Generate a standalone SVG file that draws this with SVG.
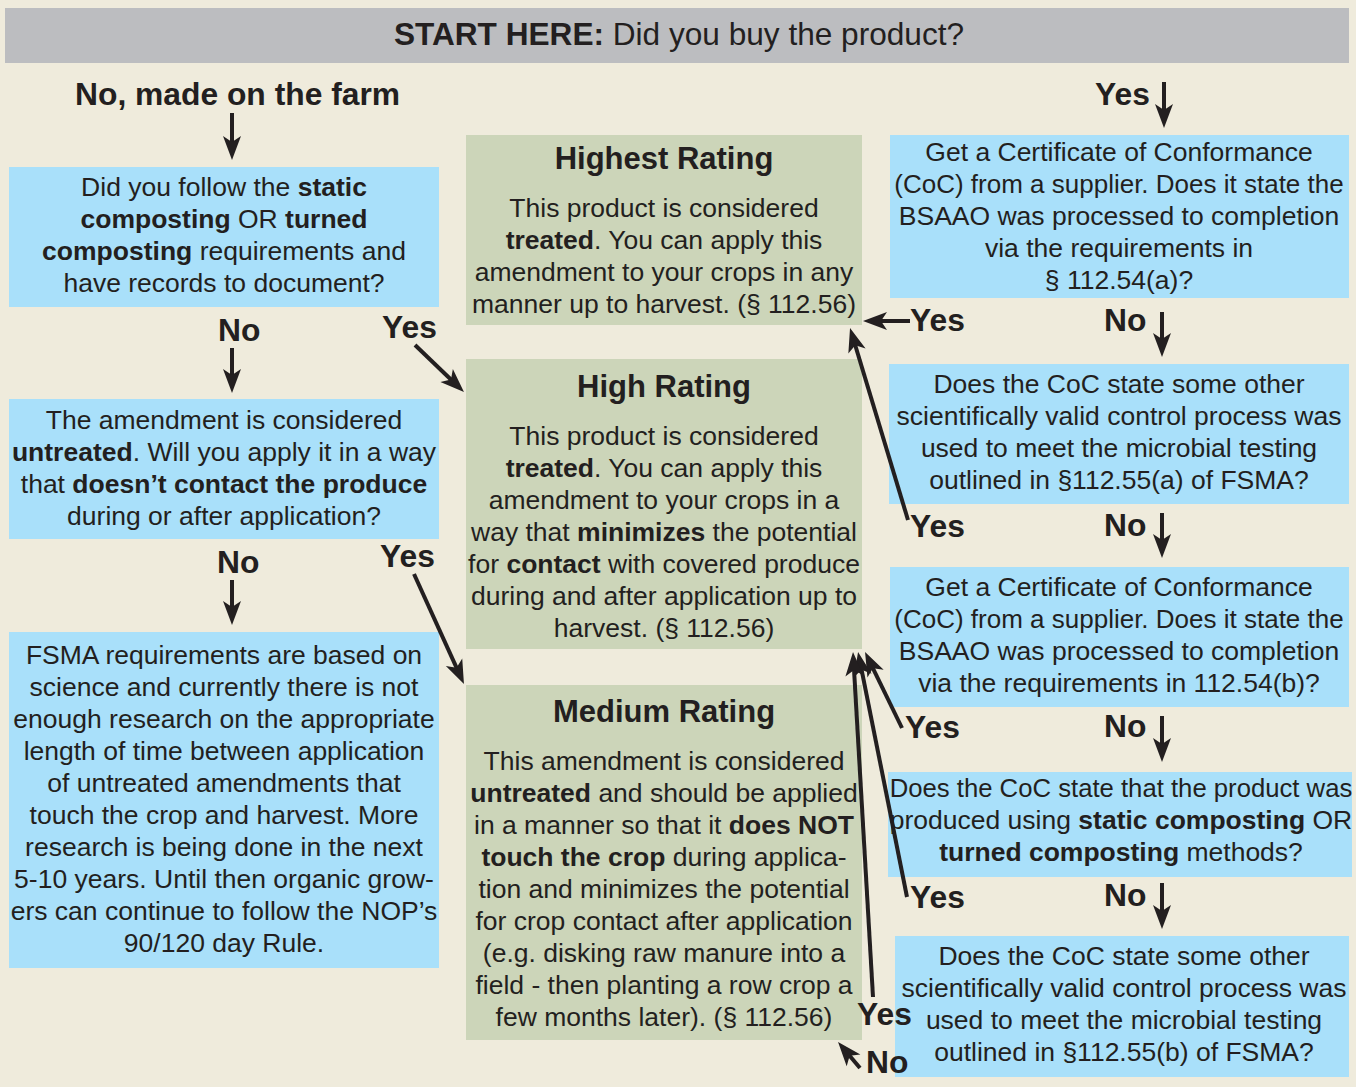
<svg xmlns="http://www.w3.org/2000/svg" width="1356" height="1087" viewBox="0 0 1356 1087">
<style>
text{font-family:"Liberation Sans",Arial,sans-serif;fill:#231f20}
.b{font-size:26.5px;text-anchor:middle}
.t{font-size:31px;font-weight:bold;text-anchor:middle}
.l{font-size:31.8px;font-weight:bold}
.bd{font-weight:bold}
.blue{fill:#a9e0fa}
.green{fill:#ccd5b9}
.c line{stroke:#231f20;stroke-width:4;marker-end:url(#ah)}
</style>
<defs>
<marker id="ah" markerUnits="userSpaceOnUse" viewBox="-13 -10 26 20" markerWidth="26" markerHeight="20" refX="0" refY="0" orient="auto">
<path d="M12,0 L-12,-9 L-6,0 L-12,9 Z" fill="#231f20"/>
</marker>
</defs>
<rect width="1356" height="1087" fill="#efebdc"/>
<g id="start">
<rect x="5" y="8" width="1344" height="55" fill="#bcbdc0"/>
<text x="679" y="45" style="font-size:31.6px;text-anchor:middle"><tspan class="bd">START HERE:</tspan> Did you buy the product?</text>
</g>
<g id="q-static">
<rect class="blue" x="9" y="167" width="430" height="140"/>
<text class="b" x="224" y="196">Did you follow the <tspan class="bd">static</tspan></text>
<text class="b" x="224" y="228"><tspan class="bd">composting</tspan> OR <tspan class="bd">turned</tspan></text>
<text class="b" x="224" y="260"><tspan class="bd">composting</tspan> requirements and</text>
<text class="b" x="224" y="292">have records to document?</text>
</g>
<g id="q-untreated">
<rect class="blue" x="9" y="399" width="430" height="140"/>
<text class="b" x="224" y="429">The amendment is considered</text>
<text class="b" x="224" y="461"><tspan class="bd">untreated</tspan>. Will you apply it in a way</text>
<text class="b" x="224" y="493">that <tspan class="bd">doesn’t contact the produce</tspan></text>
<text class="b" x="224" y="525">during or after application?</text>
</g>
<g id="fsma-note">
<rect class="blue" x="9" y="632" width="430" height="336"/>
<text class="b" x="224" y="664">FSMA requirements are based on</text>
<text class="b" x="224" y="696">science and currently there is not</text>
<text class="b" x="224" y="728">enough research on the appropriate</text>
<text class="b" x="224" y="760">length of time between application</text>
<text class="b" x="224" y="792">of untreated amendments that</text>
<text class="b" x="224" y="824">touch the crop and harvest. More</text>
<text class="b" x="224" y="856">research is being done in the next</text>
<text class="b" x="224" y="888">5-10 years. Until then organic grow-</text>
<text class="b" x="224" y="920">ers can continue to follow the NOP’s</text>
<text class="b" x="224" y="952">90/120 day Rule.</text>
</g>
<g id="highest">
<rect class="green" x="466" y="135" width="396" height="190"/>
<text class="t" x="664" y="169">Highest Rating</text>
<text class="b" x="664" y="217">This product is considered</text>
<text class="b" x="664" y="249"><tspan class="bd">treated</tspan>. You can apply this</text>
<text class="b" x="664" y="281">amendment to your crops in any</text>
<text class="b" x="664" y="313">manner up to harvest. (§ 112.56)</text>
</g>
<g id="high">
<rect class="green" x="466" y="359" width="396" height="290"/>
<text class="t" x="664" y="397">High Rating</text>
<text class="b" x="664" y="445">This product is considered</text>
<text class="b" x="664" y="477"><tspan class="bd">treated</tspan>. You can apply this</text>
<text class="b" x="664" y="509">amendment to your crops in a</text>
<text class="b" x="664" y="541">way that <tspan class="bd">minimizes</tspan> the potential</text>
<text class="b" x="664" y="573">for <tspan class="bd">contact</tspan> with covered produce</text>
<text class="b" x="664" y="605">during and after application up to</text>
<text class="b" x="664" y="637">harvest. (§ 112.56)</text>
</g>
<g id="medium">
<rect class="green" x="466" y="685" width="396" height="355"/>
<text class="t" x="664" y="722">Medium Rating</text>
<text class="b" x="664" y="770">This amendment is considered</text>
<text class="b" x="664" y="802"><tspan class="bd">untreated</tspan> and should be applied</text>
<text class="b" x="664" y="834">in a manner so that it <tspan class="bd">does NOT</tspan></text>
<text class="b" x="664" y="866"><tspan class="bd">touch the crop</tspan> during applica-</text>
<text class="b" x="664" y="898">tion and minimizes the potential</text>
<text class="b" x="664" y="930">for crop contact after application</text>
<text class="b" x="664" y="962">(e.g. disking raw manure into a</text>
<text class="b" x="664" y="994">field - then planting a row crop a</text>
<text class="b" x="664" y="1026">few months later). (§ 112.56)</text>
</g>
<g id="coc-a">
<rect class="blue" x="890" y="135" width="459" height="163"/>
<text class="b" x="1119" y="161">Get a Certificate of Conformance</text>
<text class="b" x="1119" y="193" style="font-size:26px">(CoC) from a supplier. Does it state the</text>
<text class="b" x="1119" y="225">BSAAO was processed to completion</text>
<text class="b" x="1119" y="257">via the requirements in</text>
<text class="b" x="1119" y="289">§ 112.54(a)?</text>
</g>
<g id="other-a">
<rect class="blue" x="889" y="364" width="460" height="140"/>
<text class="b" x="1119" y="393">Does the CoC state some other</text>
<text class="b" x="1119" y="425">scientifically valid control process was</text>
<text class="b" x="1119" y="457">used to meet the microbial testing</text>
<text class="b" x="1119" y="489">outlined in §112.55(a) of FSMA?</text>
</g>
<g id="coc-b">
<rect class="blue" x="890" y="567" width="459" height="140"/>
<text class="b" x="1119" y="596">Get a Certificate of Conformance</text>
<text class="b" x="1119" y="628" style="font-size:26px">(CoC) from a supplier. Does it state the</text>
<text class="b" x="1119" y="660">BSAAO was processed to completion</text>
<text class="b" x="1119" y="692">via the requirements in 112.54(b)?</text>
</g>
<g id="composting-methods">
<rect class="blue" x="888" y="772" width="464" height="105"/>
<text class="b" x="1121" y="797" style="font-size:25.7px">Does the CoC state that the product was</text>
<text class="b" x="1121" y="829">produced using <tspan class="bd">static composting</tspan> OR</text>
<text class="b" x="1121" y="861"><tspan class="bd">turned composting</tspan> methods?</text>
</g>
<g id="other-b">
<rect class="blue" x="895" y="936" width="454" height="141"/>
<text class="b" x="1124" y="965">Does the CoC state some other</text>
<text class="b" x="1124" y="997">scientifically valid control process was</text>
<text class="b" x="1124" y="1029">used to meet the microbial testing</text>
<text class="b" x="1124" y="1061">outlined in §112.55(b) of FSMA?</text>
</g>
<g id="labels">
<text class="l" x="75" y="105">No, made on the farm</text>
<text class="l" x="1095" y="105">Yes</text>
<text class="l" x="218" y="341">No</text>
<text class="l" x="382" y="338">Yes</text>
<text class="l" x="217" y="573">No</text>
<text class="l" x="380" y="567">Yes</text>
<text class="l" x="910" y="331">Yes</text>
<text class="l" x="1104" y="331">No</text>
<text class="l" x="910" y="537">Yes</text>
<text class="l" x="1104" y="536">No</text>
<text class="l" x="905" y="738">Yes</text>
<text class="l" x="1104" y="737">No</text>
<text class="l" x="910" y="908">Yes</text>
<text class="l" x="1104" y="906">No</text>
<text class="l" x="857" y="1025">Yes</text>
<text class="l" x="866" y="1073">No</text>
</g>
<g id="connectors" class="c">
<line x1="232" y1="113" x2="232" y2="148"/>
<line x1="1164" y1="82" x2="1164" y2="116"/>
<line x1="232" y1="348" x2="232" y2="381"/>
<line x1="415" y1="345" x2="455.3" y2="383.7"/>
<line x1="232" y1="580" x2="232" y2="613"/>
<line x1="414" y1="574" x2="459" y2="673.1"/>
<line x1="910" y1="321" x2="875" y2="321"/>
<line x1="1162" y1="312" x2="1162" y2="345"/>
<line x1="908" y1="520" x2="853.5" y2="339.5"/>
<line x1="1162" y1="513" x2="1162" y2="546"/>
<line x1="902" y1="728" x2="870.3" y2="662.8"/>
<line x1="1162" y1="716" x2="1162" y2="750"/>
<line x1="907" y1="897" x2="860.4" y2="663.8"/>
<line x1="1162" y1="883" x2="1162" y2="917"/>
<line x1="873" y1="997" x2="853.7" y2="664"/>
<line x1="860" y1="1068" x2="845.8" y2="1051.2"/>
</g>
</svg>
